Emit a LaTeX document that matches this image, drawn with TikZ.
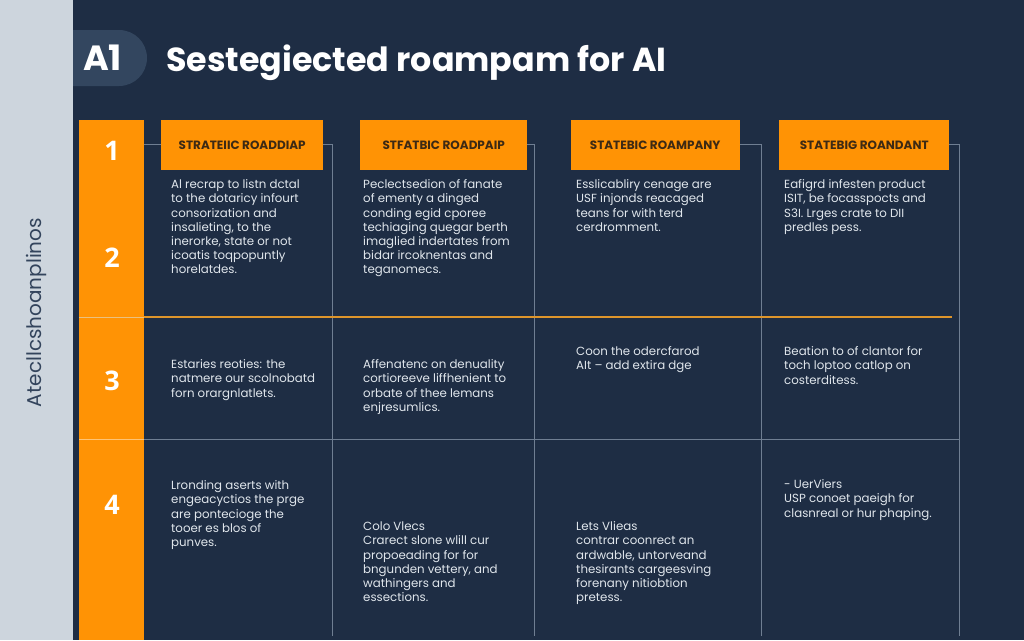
\documentclass[tikz,border=0pt]{standalone}
\usepackage{fontspec}
\setmainfont{Poppins}
\newfontfamily\numfont{Open Sans}
\definecolor{bgnavy}{HTML}{1E2D44}
\definecolor{sidegray}{HTML}{CDD5DD}
\definecolor{pillblue}{HTML}{33465F}
\definecolor{orangefill}{HTML}{FF9305}
\definecolor{orangeline}{HTML}{DE952B}
\definecolor{gridline}{HTML}{6F7E92}
\definecolor{bodytext}{HTML}{E0E6EC}
\definecolor{headtext}{HTML}{3D2A14}
\definecolor{sidetext}{HTML}{33445C}
\tikzset{
  x=1pt,y=-1pt,
  grid/.style={draw=gridline,line width=0.9pt},
  headbox/.style={fill=orangefill,minimum height=50pt,inner sep=0pt,font=\fontsize{12}{13}\selectfont\bfseries,text=headtext},
  cell/.style={anchor=north west,inner sep=0pt,align=left,text=bodytext,font=\fontsize{11.8}{14.2}\selectfont},
  rownum/.style={text=white,font=\numfont\fontsize{27}{30}\selectfont\bfseries,inner sep=0pt},
}
\newcommand{\fl}{\rule{0pt}{10pt}}
\begin{document}
\begin{tikzpicture}
\useasboundingbox (0,0) rectangle (1024,640);
\fill[bgnavy] (0,0) rectangle (1024,640);
\fill[sidegray] (0,0) rectangle (73,640);
\fill[pillblue] (73,30) -- (119,30) .. controls (134.5,30) and (147,42.5) .. (147,58) .. controls (147,73.5) and (134.5,86) .. (119,86) -- (73,86) -- cycle;
\node[text=white,font=\fontsize{35}{36}\selectfont\bfseries,inner sep=0pt] (badge) at (102.5,58) {A1};
\node[anchor=base west,inner sep=0pt,text=white,font=\fontsize{33.3}{38}\selectfont\bfseries] (title) at (166,71) {Sestegiected roampam for AI};
\node[rotate=90,text=sidetext,font=\fontsize{20}{24}\selectfont,inner sep=0pt] (side) at (36,312.5) {Atecllcshoanplinos};
% grid
\foreach \x in {332,534,761,959}{\draw[grid] (\x,144) -- (\x,636);}
\draw[grid] (144,144) -- (161,144) (323,144) -- (332,144) (527,144) -- (534,144) (739,144) -- (761,144) (949,144) -- (959,144);
\draw[grid] (79,439) -- (959,439);
% orange column
\fill[orangefill] (79,120) rectangle (144,640);
\draw[orangeline!60!white,line width=0.6pt] (79,317) -- (144,317);
\draw[white!45!orangefill,line width=0.7pt] (79,439) -- (144,439);
\draw[orangeline,line width=2.4pt] (144,317) -- (952,317);
% headers
\node[headbox,minimum width=162pt,anchor=north west] (h1) at (161,120) {STRATEIIC ROADDIAP};
\node[headbox,minimum width=167pt,anchor=north west] (h2) at (360,120) {STFATBIC ROADPAIP};
\node[headbox,minimum width=169pt,anchor=north west] (h3) at (570.5,120) {STATEBIC ROAMPANY};
\node[headbox,minimum width=170pt,anchor=north west] (h4) at (779,120) {STATEBIG ROANDANT};
% row numbers
\node[rownum] (n1) at (112,150.5) {1};
\node[rownum] (n2) at (112,257.5) {2};
\node[rownum] (n3) at (112,380.5) {3};
\node[rownum] (n4) at (112,504.5) {4};
% row 1
\node[cell] (c11) at (171,178.5) {\fl Al recrap to listn dctal\\to the dotaricy infourt\\consorization and\\insalieting, to the\\inerorke, state or not\\icoatis toqpopuntly\\horelatdes.};
\node[cell] (c12) at (363,178.5) {\fl Peclectsedion of fanate\\of ementy a dinged\\conding egid cporee\\techiaging quegar berth\\imaglied indertates from\\bidar ircoknentas and\\teganomecs.};
\node[cell] (c13) at (576,178.5) {\fl Esslicabliry cenage are\\USF injonds reacaged\\teans for with terd\\cerdromment.};
\node[cell] (c14) at (784,178.5) {\fl Eafigrd infesten product\\ISIT, be focasspocts and\\S3I. Lrges crate to DII\\predles pess.};
% row 3
\node[cell] (c31) at (171,358.5) {\fl Estaries reoties: the\\natmere our scolnobatd\\forn orargnlatlets.};
\node[cell] (c32) at (363,358.5) {\fl Affenatenc on denuality\\cortioreeve liffhenient to\\orbate of thee lemans\\enjresumlics.};
\node[cell] (c33) at (576,345.5) {\fl Coon the odercfarod\\AIt -- add extira dge};
\node[cell] (c34) at (784,345.5) {\fl Beation to of clantor for\\toch loptoo catlop on\\costerditess.};
% row 4
\node[cell] (c41) at (171,479.5) {\fl Lronding aserts with\\engeacyctios the prge\\are pontecioge the\\tooer es blos of\\punves.};
\node[cell] (c42) at (363,520.5) {\fl Colo Vlecs\\Crarect slone wlill cur\\propoeading for for\\bngunden vettery, and\\wathingers and\\essections.};
\node[cell] (c43) at (576,520.5) {\fl Lets Vlieas\\contrar coonrect an\\ardwable, untorveand\\thesirants cargeesving\\forenany nitiobtion\\pretess.};
\node[cell] (c44) at (784,478.5) {\fl - UerViers\\USP conoet paeigh for\\clasnreal or hur phaping.};
\end{tikzpicture}
\end{document}
